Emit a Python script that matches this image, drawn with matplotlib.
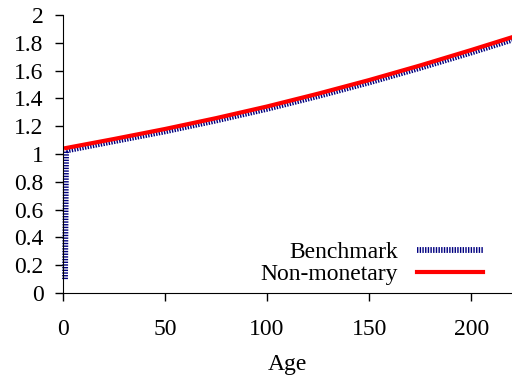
import matplotlib
matplotlib.use("Agg")
import matplotlib.pyplot as plt

plt.rcParams["font.family"] = ["Liberation Serif", "DejaVu Serif"]

# age profiles read at regular ages
bench_age = [1, 1.5, 25, 50, 75, 100, 125, 150, 175, 200, 220]
bench_val = [0.1, 1.025, 1.092, 1.163, 1.241, 1.325, 1.417, 1.515, 1.62, 1.73, 1.822]
nonmon_age = [1.5, 25, 50, 75, 100, 125, 150, 175, 200, 220]
nonmon_val = [1.043, 1.108, 1.18, 1.258, 1.342, 1.434, 1.532, 1.637, 1.748, 1.84]

x_ticks = [0, 50, 100, 150, 200]
y_ticks = [0, 0.2, 0.4, 0.6, 0.8, 1, 1.2, 1.4, 1.6, 1.8, 2]
y_labels = ["0", "0.2", "0.4", "0.6", "0.8", "1", "1.2", "1.4", "1.6", "1.8", "2"]

fig = plt.figure(figsize=(5.12, 3.8), dpi=100)
ax = fig.add_axes([63 / 512, 87 / 380, 449 / 512, 278 / 380])

ax.plot(bench_age, bench_val, color="#000080", lw=4.2,
        linestyle=(0, (0.24, 0.22)), dash_capstyle="butt",
        label="Benchmark", clip_on=False)
ax.plot(nonmon_age, nonmon_val, color="#ff0000", lw=3,
        label="Non-monetary", clip_on=False)

ax.set_xlim(0, 220)
ax.set_ylim(0, 2)
ax.set_xticks(x_ticks)
ax.set_yticks(y_ticks)
ax.set_yticklabels(y_labels)
ax.set_xlabel("Age", fontsize=17, labelpad=10)

for side in ("top", "right"):
    ax.spines[side].set_visible(False)
ax.tick_params(axis="both", direction="out", length=6, width=1,
               labelsize=17, colors="black")
ax.tick_params(axis="x", pad=13)
ax.tick_params(axis="y", pad=8)

ax.legend(loc="lower right", bbox_to_anchor=(0.957, -0.005), frameon=False,
          markerfirst=False, fontsize=17, handlelength=2.8,
          labelspacing=0.0, borderaxespad=0, handletextpad=0.8)

fig.savefig("out.png", dpi=100)
